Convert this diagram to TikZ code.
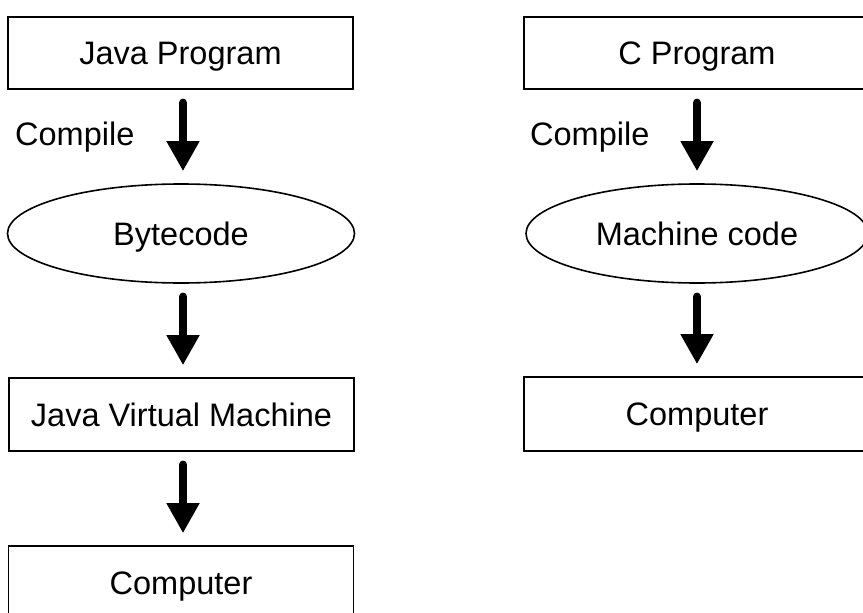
\documentclass[tikz,border=0pt]{standalone}
\usepackage{fontspec}
\setmainfont{Liberation Sans}
\usetikzlibrary{shapes.geometric,arrows.meta}
\tikzset{
  base/.style={draw=black, line width=1.6pt, inner sep=0pt, text height=23.3pt, text depth=0pt,
    font=\fontsize{32.5}{39}\selectfont},
  boxnode/.style={base, rectangle, minimum width=345pt, minimum height=73pt},
  ovalnode/.style={base, ellipse, minimum height=99pt},
  flow/.style={line width=8.5pt, line cap=round, shorten <=13pt, shorten >=12pt,
    -{Triangle[width=31pt,length=30pt]}},
  lbl/.style={inner sep=0pt, font=\fontsize{32.5}{39}\selectfont}
}
\begin{document}
\begin{tikzpicture}[x=1pt,y=-1pt]
\useasboundingbox (0,0) rectangle (863,613);
\clip (0,0) rectangle (863,613);
% left column
\node[boxnode, minimum height=72pt] (jp) at (180.5,53) {Java Program};
\node[ovalnode, minimum width=347pt] (bc) at (181,233.5) {Bytecode};
\node[boxnode] (jvm) at (181.5,414.5) {Java Virtual Machine};
\node[boxnode] (lc) at (181,582.5) {Computer};
\node[lbl, anchor=base west] (lcomp) at (15,145) {Compile};
% right column
\node[boxnode, minimum width=346pt, minimum height=72pt] (cp) at (697,53) {C Program};
\node[ovalnode, minimum width=342pt] (mc) at (697,233.5) {Machine code};
\node[boxnode, minimum width=346pt, minimum height=74pt] (rc) at (697,414) {Computer};
\node[lbl, anchor=base west] (rcomp) at (530,145) {Compile};
% arrows
\draw[flow] (jp.south -| 183,0) -- (bc.north -| 183,0);
\draw[flow] (bc.south -| 183,0) -- (jvm.north -| 183,0);
\draw[flow] (jvm.south -| 183,0) -- (lc.north -| 183,0);
\draw[flow] (cp.south) -- (mc.north);
\draw[flow] (mc.south) -- (rc.north);
\end{tikzpicture}
\end{document}
